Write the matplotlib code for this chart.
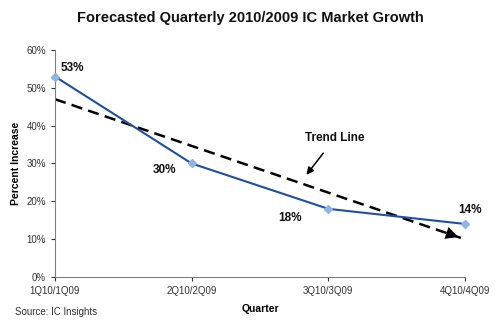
import matplotlib.pyplot as plt
import numpy as np

plt.rcParams['font.family'] = ['Liberation Sans', 'DejaVu Sans']

quarters = ['1Q10/1Q09', '2Q10/2Q09', '3Q10/3Q09', '4Q10/4Q09']
growth = [53, 30, 18, 14]
trend_x = [0, 2.97]
trend_y = [47, 10.3]
yticks = [0, 10, 20, 30, 40, 50, 60]

fig = plt.figure(figsize=(5, 3.25), dpi=100)
ax = fig.add_axes([0.11, 0.148, 0.82, 0.698])
x = np.arange(len(quarters))

# trend line (dashed) with arrow head at the end
ax.plot(trend_x, trend_y, color='black', lw=1.8, ls=(0, (4.5, 2.5)), zorder=2)
ax.annotate('', xy=(trend_x[1], trend_y[1]), xytext=(trend_x[1] - 0.12, trend_y[1] + 1.5),
            arrowprops=dict(arrowstyle='-|>,head_length=0.9,head_width=0.45',
                            color='black', lw=0), zorder=3)

ax.plot(x, growth, color='#1f4fa3', lw=1.5, marker='D', ms=4.5,
        mfc='#8db4e2', mec='#8db4e2', zorder=4, clip_on=False)

# value labels
lbl_pos = [(0.04, 55.3, 'left'), (0.80, 28.3, 'center'), (1.72, 15.6, 'center'), (3.04, 17.7, 'center')]
for (lx, ly, ha), v in zip(lbl_pos, growth):
    ax.text(lx, ly, f'{v}%', ha=ha, va='center', fontsize=8.5, fontweight='bold', color='#111111')

ax.annotate('Trend Line', xy=(1.84, 27), xytext=(2.05, 36.8), ha='center', va='center',
            fontsize=8.5, fontweight='bold', color='#111111',
            arrowprops=dict(arrowstyle='-|>,head_length=0.5,head_width=0.25', color='black',
                            lw=1.1, shrinkA=6, shrinkB=0))

ax.set_xlim(0, 3)
ax.set_ylim(0, 60)
ax.set_xticks(x)
ax.set_xticklabels(quarters)
ax.set_yticks(yticks)
ax.set_yticklabels([f'{t}%' for t in yticks])
ax.tick_params(labelsize=7, colors='#333333', length=3, width=0.8)
for s in ['top', 'right']:
    ax.spines[s].set_visible(False)
for s in ['left', 'bottom']:
    ax.spines[s].set_color('#808080')
    ax.spines[s].set_linewidth(0.8)

ax.set_xlabel('Quarter', fontsize=7.5, fontweight='bold', labelpad=6)
ax.set_ylabel('Percent Increase', fontsize=7.5, fontweight='bold', labelpad=4)
fig.text(0.5, 0.945, 'Forecasted Quarterly 2010/2009 IC Market Growth', ha='center', va='center',
         fontsize=10.5, fontweight='bold', color='#111111')
fig.text(0.03, 0.04, 'Source: IC Insights', fontsize=7, color='#333333', va='center')

fig.savefig('out.png', dpi=100)
